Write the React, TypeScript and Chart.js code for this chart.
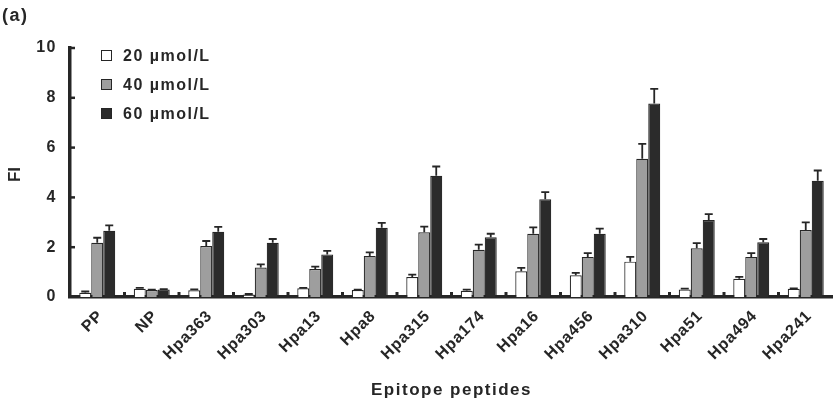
import React, { useEffect, useRef } from 'react';
import { Chart, registerables } from 'chart.js';

Chart.register(...registerables);

const categories = ['PP', 'NP', 'Hpa363', 'Hpa303', 'Hpa13', 'Hpa8', 'Hpa315', 'Hpa174', 'Hpa16', 'Hpa456', 'Hpa310', 'Hpa51', 'Hpa494', 'Hpa241'];
const seriesLabels = ['20 µmol/L', '40 µmol/L', '60 µmol/L'];
const values20 = [0.17, 0.33, 0.27, 0.1, 0.35, 0.28, 0.8, 0.25, 1.03, 0.87, 1.42, 0.3, 0.73, 0.33];
const errors20 = [0.05, 0.04, 0.04, 0.02, 0.02, 0.02, 0.1, 0.05, 0.14, 0.1, 0.19, 0.04, 0.08, 0.02];
const values40 = [2.18, 0.28, 2.05, 1.18, 1.12, 1.65, 2.6, 1.9, 2.54, 1.61, 5.55, 1.96, 1.61, 2.69];
const errors40 = [0.2, 0.02, 0.2, 0.13, 0.1, 0.14, 0.23, 0.2, 0.26, 0.15, 0.6, 0.2, 0.15, 0.31];
const values60 = [2.66, 0.3, 2.62, 2.18, 1.71, 2.78, 4.87, 2.4, 3.93, 2.54, 7.77, 3.09, 2.2, 4.67];
const errors60 = [0.22, 0.02, 0.2, 0.15, 0.14, 0.2, 0.37, 0.14, 0.28, 0.21, 0.59, 0.24, 0.13, 0.41];
const yTickValues = [0, 2, 4, 6, 8, 10];
const xTitle = 'Epitope peptides';
const yTitle = 'FI';
const panelLabel = '(a)';

const FAMILY = '"Liberation Sans", Arial, Helvetica, sans-serif';
const INK = '#262626';
const fills = ['#ffffff', '#9e9e9e', '#2b2b2b'];

export default function App() {
  const ref = useRef<HTMLCanvasElement>(null);

  useEffect(() => {
    document.body.style.margin = '0';
    const canvas = ref.current!;
    const allErrors = [errors20, errors40, errors60];

    const setSpacing = (chart: any) => {
      (chart.ctx as any).letterSpacing = '1.5px';
    };

    // text right-aligned at (ax, ay), running up-right at 45°, placed glyph by glyph
    const drawDiagonal = (ctx: CanvasRenderingContext2D, text: string, ax: number, ay: number, spacing: number) => {
      const chars = Array.from(text);
      const widths = chars.map((ch) => ctx.measureText(ch).width);
      const total = widths.reduce((a, b) => a + b, 0) + spacing * (chars.length - 1);
      const c = Math.SQRT1_2;
      let d = -total;
      ctx.textAlign = 'left';
      ctx.textBaseline = 'middle';
      chars.forEach((ch, k) => {
        ctx.save();
        ctx.translate(ax + d * c, ay - d * c);
        ctx.rotate(-Math.PI / 4);
        ctx.fillText(ch, 0, 0);
        ctx.restore();
        d += widths[k] + spacing;
      });
    };

    const extras = {
      id: 'extras',
      beforeLayout(chart: any) { setSpacing(chart); },
      beforeDraw(chart: any) { setSpacing(chart); },
      afterDatasetsDraw(chart: any) {
        const ctx = chart.ctx;
        const yScale = chart.scales.y;
        ctx.save();
        ctx.strokeStyle = INK;
        ctx.lineWidth = 1.8;
        chart.data.datasets.forEach((ds: any, i: number) => {
          const meta = chart.getDatasetMeta(i);
          meta.data.forEach((bar: any, j: number) => {
            const v = ds.data[j];
            const e = allErrors[i][j];
            const top = yScale.getPixelForValue(v + e);
            const x = bar.x;
            ctx.beginPath();
            ctx.moveTo(x, bar.y);
            ctx.lineTo(x, top);
            ctx.moveTo(x - 4, top);
            ctx.lineTo(x + 4, top);
            ctx.stroke();
          });
        });
        ctx.restore();
      },
      afterDraw(chart: any) {
        const ctx = chart.ctx;
        const area = chart.chartArea;
        const xScale = chart.scales.x;
        const yScale = chart.scales.y;
        ctx.save();
        ctx.fillStyle = INK;
        ctx.strokeStyle = INK;
        // x boundary ticks (pointing up)
        for (let i = 1; i < categories.length; i++) {
          const x = (xScale.getPixelForValue(i - 1) + xScale.getPixelForValue(i)) / 2;
          ctx.fillRect(x - 1.5, area.bottom - 5, 3, 5);
        }
        // y ticks (pointing right)
        ctx.lineWidth = 2.5;
        yTickValues.forEach((v) => {
          if (v === 0) return;
          const y = yScale.getPixelForValue(v);
          ctx.beginPath();
          ctx.moveTo(area.left, y);
          ctx.lineTo(area.left + 5, y);
          ctx.stroke();
        });
        // rotated category labels
        (ctx as any).letterSpacing = '0px';
        ctx.font = `bold 16px ${FAMILY}`;
        categories.forEach((c, i) => {
          const x = xScale.getPixelForValue(i);
          drawDiagonal(ctx, c, x + 3, area.bottom + 17, 0.8);
        });
        // y title
        ctx.font = `bold 17px ${FAMILY}`;
        ctx.textAlign = 'center';
        ctx.textBaseline = 'middle';
        ctx.save();
        ctx.translate(15, (area.top + area.bottom) / 2 + 2);
        ctx.rotate(-Math.PI / 2);
        ctx.fillText(yTitle, 0, 0);
        ctx.restore();
        (ctx as any).letterSpacing = '1.5px';
        // legend
        ctx.font = `bold 16px ${FAMILY}`;
        ctx.textBaseline = 'middle';
        ctx.textAlign = 'left';
        seriesLabels.forEach((label, i) => {
          const cy = area.top + 7.5 + i * 29;
          const bx = area.left + 31;
          ctx.fillStyle = fills[i];
          ctx.fillRect(bx, cy - 5.5, 11, 11);
          ctx.lineWidth = 1;
          ctx.strokeStyle = INK;
          ctx.strokeRect(bx + 0.5, cy - 5, 10, 10);
          ctx.fillStyle = INK;
          ctx.fillText(label, bx + 22, cy + 1);
        });
        // x title
        ctx.font = `bold 17px ${FAMILY}`;
        ctx.textAlign = 'center';
        ctx.textBaseline = 'middle';
        ctx.fillText(xTitle, (area.left + area.right) / 2, 390);
        ctx.textAlign = 'left';
        ctx.textBaseline = 'alphabetic';
        ctx.font = `bold 18px ${FAMILY}`;
        ctx.fillText(panelLabel, 2, 21);
        ctx.restore();
      },
    };

    const mk = (label: string, data: number[], i: number) => ({
      label,
      data,
      backgroundColor: fills[i],
      borderColor: INK,
      borderWidth: 1.2,
      categoryPercentage: 0.66,
      barPercentage: 1.0,
    });

    const chart = new Chart(canvas, {
      type: 'bar',
      data: {
        labels: categories,
        datasets: [mk(seriesLabels[0], values20, 0), mk(seriesLabels[1], values40, 1), mk(seriesLabels[2], values60, 2)],
      },
      options: {
        responsive: false,
        animation: false,
        layout: { padding: { top: 48, right: 0, left: 0, bottom: 0 } },
        plugins: { legend: { display: false }, tooltip: { enabled: false } },
        scales: {
          x: {
            grid: { display: false, drawTicks: false },
            border: { display: true, width: 3.5, color: INK },
            ticks: { display: false },
            afterFit: (s: any) => { s.height = 104; },
          },
          y: {
            min: 0,
            max: 10,
            afterBuildTicks: (s: any) => { s.ticks = yTickValues.map((v) => ({ value: v })); },
            grid: { display: false, drawTicks: false },
            border: { display: true, width: 3.5, color: INK },
            ticks: {
              font: { family: FAMILY, size: 16, weight: 'bold' },
              color: INK,
              padding: 13,
            },
            afterFit: (s: any) => { s.width = 70; },
          },
        },
      } as any,
      plugins: [extras],
    });
    return () => chart.destroy();
  }, []);

  return (
    <div style={{ position: 'absolute', left: 0, top: 0, width: 833, height: 401 }}>
      <canvas ref={ref} width={833} height={401} style={{ width: 833, height: 401 }} />
    </div>
  );
}
